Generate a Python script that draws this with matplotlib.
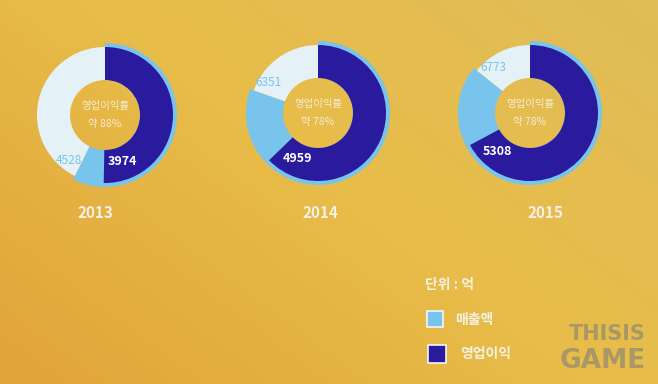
import matplotlib.pyplot as plt
import numpy as np
from matplotlib.colors import LinearSegmentedColormap

plt.rcParams['font.family'] = ['Noto Sans CJK KR', 'DejaVu Sans']

# data (unit: 억)
years = ['2013', '2014', '2015']
sales = [4528, 6351, 6773]        # 매출액
profit = [3974, 4959, 5308]       # 영업이익
rates = ['약 88%', '약 78%', '약 78%']
full_scale = 7900                 # value of one full turn

# layout (pixel coords, y down)
centers = [(105, 115), (318, 113), (530, 113)]
r_out, r_mid, r_in = 72, 68, 35
year_y = 213
year_x = [95, 320, 546]

navy = '#2A1A9E'
lblue = '#78C4EC'
pale = '#E4F1F7'
txt = '#F5F1E4'

fig = plt.figure(figsize=(6.58, 3.84), dpi=100)
ax = fig.add_axes([0, 0, 1, 1])

# background gradient
gx, gy = np.meshgrid(np.linspace(0, 1, 200), np.linspace(0, 1, 120))
g = np.clip(0.55 + 0.45 * gx - 0.35 * gy, 0, 1)
cmap = LinearSegmentedColormap.from_list('bg', ['#E0A43A', '#E8BC48', '#E1BC58'])
ax.imshow(g, cmap=cmap, extent=[0, 658, 384, 0], aspect='auto', zorder=0)


def polar(cx, cy, frac, r):
    # clockwise from 12 o'clock, y axis pointing down
    t = 2 * np.pi * frac
    return cx + r * np.sin(t), cy - r * np.cos(t)


for i in range(3):
    cx, cy = centers[i]
    ax.pie([sales[i], full_scale - sales[i]], colors=[lblue, 'none'],
           radius=r_out, center=(cx, cy), startangle=-90, counterclock=True,
           wedgeprops=dict(width=r_out - r_in, linewidth=0), frame=True)
    ax.pie([profit[i], sales[i] - profit[i], full_scale - sales[i]],
           colors=[navy, 'none', pale],
           radius=r_mid, center=(cx, cy), startangle=-90, counterclock=True,
           wedgeprops=dict(width=r_mid - r_in, linewidth=0), frame=True)
    ax.text(cx, cy - 9, '영업이익률', ha='center', va='center',
            fontsize=7.5, color=txt, alpha=0.9)
    ax.text(cx, cy + 9, rates[i], ha='center', va='center',
            fontsize=7.5, color=txt, alpha=0.9)
    sx, sy = polar(cx, cy, sales[i] / full_scale + 0.035, 58)
    ax.text(sx, sy, f'{sales[i]}', ha='center', va='center',
            fontsize=8.5, color=lblue)
    px, py = polar(cx, cy, profit[i] / full_scale - 0.06, 50)
    ax.text(px, py, f'{profit[i]}', ha='center', va='center',
            fontsize=9, color='white', fontweight='bold')
    ax.text(year_x[i], year_y, years[i], ha='center', va='center',
            fontsize=11, color=txt, fontweight='bold')

ax.set_xlim(0, 658)
ax.set_ylim(384, 0)
ax.set_aspect('equal')
ax.axis('off')

# legend
ax.text(425, 285, '단위 : 억', ha='left', va='center', fontsize=10,
        color=txt, fontweight='bold')
ax.add_patch(plt.Rectangle((427, 311), 16, 16, facecolor=lblue,
                           edgecolor='#F0F6FA', linewidth=1.2))
ax.text(455, 320, '매출액', ha='left', va='center', fontsize=10,
        color=txt, fontweight='bold')
ax.add_patch(plt.Rectangle((428, 345), 18, 18, facecolor=navy,
                           edgecolor='#F0F6FA', linewidth=1.2))
ax.text(460, 354, '영업이익', ha='left', va='center', fontsize=10,
        color=txt, fontweight='bold')

# watermark
ax.text(646, 334, 'THISIS', ha='right', va='center', fontsize=15,
        fontweight='bold', color='#958C70', alpha=0.75, family='DejaVu Sans')
ax.text(646, 361, 'GAME', ha='right', va='center', fontsize=19,
        fontweight='bold', color='#958C70', alpha=0.75, family='DejaVu Sans')

fig.savefig('out.png', dpi=100)
